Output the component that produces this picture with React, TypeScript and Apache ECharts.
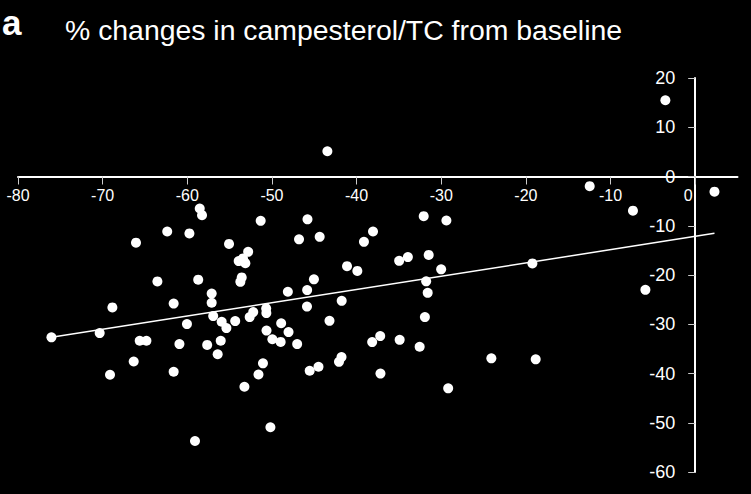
import React, { useEffect, useRef } from "react";
import * as echarts from "echarts";

const panelLetter = "a";
const chartTitle = "% changes in campesterol/TC from baseline";

// x values (horizontal axis)
const xValues = [
  -76.05, -70.35, -69.13, -68.85, -66.33, -66.06, -65.62, -64.83, -63.53, -62.37,
  -61.61, -61.61, -60.93, -60.04, -59.75, -59.09, -58.71, -58.53, -58.26, -57.65,
  -57.12, -57.12, -56.94, -56.41, -56.05, -55.94, -55.38, -55.07, -54.34, -53.93,
  -53.42, -53.14, -53.57, -53.73, -53.25, -52.81, -52.63, -52.21, -51.59, -51.33,
  -51.06, -50.68, -50.66, -50.64, -50.18, -49.95, -48.97, -48.91, -48.12, -48.04,
  -47.02, -46.8, -45.84, -45.86, -45.8, -45.54, -45.04, -44.5, -44.36, -43.45,
  -43.2, -42.08, -41.78, -41.76, -41.13, -39.91, -39.13, -38.16, -38.06, -37.21,
  -37.18, -34.97, -34.91, -33.94, -32.55, -32.07, -31.93, -31.78, -31.6, -31.48,
  -30.01, -29.39, -29.18, -24.08, -19.23, -18.84, -12.46, -7.35, -5.88, -3.52,
  2.28,
];

// y values (% changes in campesterol/TC)
const yValues = [
  -32.66, -31.79, -40.25, -26.58, -37.57, -13.43, -33.35, -33.35, -21.3, -11.16,
  -25.81, -39.64, -34.02, -29.97, -11.56, -53.7, -20.94, -6.49, -7.85, -34.19,
  -23.78, -25.64, -28.34, -36.09, -33.35, -29.5, -30.78, -13.69, -29.36, -17.18,
  -16.64, -17.59, -20.49, -21.38, -42.69, -15.3, -28.55, -27.53, -40.21, -9.01,
  -37.94, -26.78, -27.73, -31.28, -50.92, -33.05, -33.58, -29.8, -23.41, -31.59,
  -34.02, -12.76, -23.07, -26.42, -8.7, -39.44, -20.88, -38.63, -12.25, 5.13,
  -29.3, -37.63, -36.66, -25.24, -18.2, -19.17, -13.27, -33.62, -11.16, -32.4,
  -40.01, -17.12, -33.17, -16.37, -34.57, -8.05, -28.55, -21.28, -23.62, -15.93,
  -18.85, -8.93, -43.01, -36.92, -17.65, -37.13, -1.97, -6.94, -23.01, 15.48,
  -3.08,
];

const xTickValues = [-80, -70, -60, -50, -40, -30, -20, -10, 0];
const xLabelValues = [-80, -70, -60, -50, -40, -30, -20, -10];
const yTickValues = [20, 10, 0, -10, -20, -30, -40, -50, -60];

// regression line
const fitIntercept = -12.16;
const fitSlope = 0.2695;

const X_MIN = -80;
const X_MAX = 5;
const Y_MIN = -60;
const Y_MAX = 20;
const GRID = { left: 18, right: 13.5, top: 78, bottom: 22 };
const W = 751;
const H = 494;

export default function App() {
  const ref = useRef<HTMLDivElement>(null);

  useEffect(() => {
    if (!ref.current) return;
    const chart = echarts.init(ref.current, null, { renderer: "svg" });
    const points = xValues.map((x, i) => [x, yValues[i]]);
    const xMin = Math.min(...xValues);
    const xMax = Math.max(...xValues);
    const fitLine = [
      [xMin, fitIntercept + fitSlope * xMin],
      [xMax, fitIntercept + fitSlope * xMax],
    ];
    const font = "'Liberation Sans', Arial, Helvetica, sans-serif";

    const gridW = W - GRID.left - GRID.right;
    const gridH = H - GRID.top - GRID.bottom;
    // axes cross at the origin: shift each axis from its grid edge to zero
    const zeroY = GRID.top + (Y_MAX / (Y_MAX - Y_MIN)) * gridH;
    const zeroX = GRID.left + ((0 - X_MIN) / (X_MAX - X_MIN)) * gridW;
    const xOffset = -(GRID.top + gridH - zeroY);
    const yOffset = -(zeroX - GRID.left);

    chart.setOption({
      animation: false,
      backgroundColor: "#000000",
      title: [
        {
          text: panelLetter,
          left: 2,
          top: 5,
          padding: 0,
          textStyle: { color: "#ffffff", fontSize: 35, fontWeight: "bold", fontFamily: font },
        },
        {
          text: chartTitle,
          left: 65,
          top: 16,
          padding: 0,
          textStyle: { color: "#ffffff", fontSize: 28.4, fontWeight: "normal", fontFamily: font },
        },
      ],
      grid: { ...GRID, containLabel: false },
      xAxis: {
        type: "value",
        position: "bottom",
        offset: xOffset,
        min: X_MIN,
        max: X_MAX,
        interval: 10,
        splitLine: { show: false },
        axisLine: { show: true, onZero: false, lineStyle: { color: "#ffffff", width: 2 } },
        axisTick: {
          show: true,
          length: 8,
          customValues: xTickValues,
          lineStyle: { color: "#cccccc", width: 1 },
        },
        axisLabel: {
          customValues: xLabelValues,
          color: "#ffffff",
          fontSize: 16,
          fontFamily: font,
          margin: 11,
        },
      },
      yAxis: {
        type: "value",
        position: "left",
        offset: yOffset,
        min: Y_MIN,
        max: Y_MAX,
        interval: 10,
        splitLine: { show: false },
        axisLine: { show: true, onZero: false, lineStyle: { color: "#ffffff", width: 2 } },
        axisTick: {
          show: true,
          length: 7,
          customValues: yTickValues,
          lineStyle: { color: "#cccccc", width: 1 },
        },
        axisLabel: {
          customValues: yTickValues,
          color: "#ffffff",
          fontSize: 18,
          fontFamily: font,
          margin: 20,
        },
      },
      series: [
        {
          type: "line",
          data: fitLine,
          symbol: "none",
          silent: true,
          lineStyle: { color: "#ffffff", width: 1.5 },
          z: 1,
        },
        {
          type: "scatter",
          data: points,
          symbol: "circle",
          symbolSize: 10,
          itemStyle: { color: "#ffffff", opacity: 1 },
          z: 2,
        },
      ],
    });

    const origin = chart.convertToPixel({ gridIndex: 0 }, [0, 0]) as number[];
    if (origin) {
      chart.setOption({
        graphic: [
          {
            type: "text",
            x: origin[0] - 7,
            y: origin[1] + 11,
            style: {
              text: "0",
              fill: "#ffffff",
              fontSize: 16,
              fontFamily: font,
              align: "center",
              verticalAlign: "top",
            },
          },
        ],
      });
    }

    return () => chart.dispose();
  }, []);

  return (
    <div
      ref={ref}
      style={{ position: "fixed", left: 0, top: 0, width: W, height: H }}
    />
  );
}
